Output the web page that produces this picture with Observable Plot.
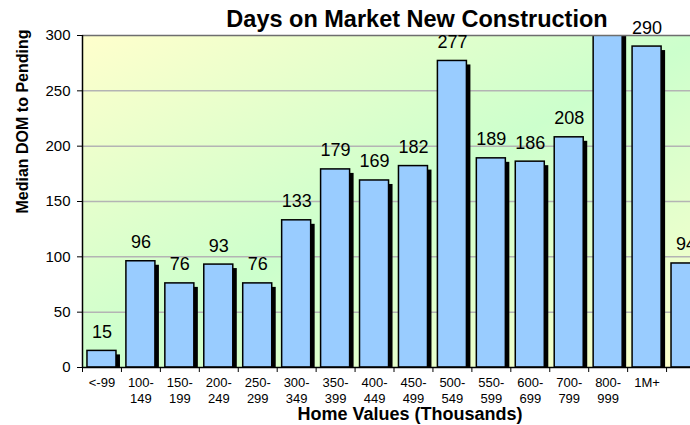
<!DOCTYPE html>
<html><head><meta charset="utf-8">
<script src="https://cdn.jsdelivr.net/npm/d3@7"></script>
<script src="https://cdn.jsdelivr.net/npm/@observablehq/plot@0.6"></script>
<style>
html,body{margin:0;padding:0;background:#fff;overflow:hidden;}
#chart{width:690px;height:425px;overflow:hidden;}
</style></head><body><div id="chart"></div>
<script>
const title = "Days on Market New Construction";
const yTitle = "Median DOM to Pending";
const xTitle = "Home Values (Thousands)";
const categories = ["<-99","100-149","150-199","200-249","250-299","300-349","350-399","400-449","450-499","500-549","550-599","600-699","700-799","800-999","1M+","(cut off)"];
const tickLabels = ["<-99","100-\n149","150-\n199","200-\n249","250-\n299","300-\n349","350-\n399","400-\n449","450-\n499","500-\n549","550-\n599","600-\n699","700-\n799","800-\n999","1M+",""];
const values = [15,96,76,93,76,133,179,169,182,277,189,186,208,320,290,94];
const yTicks = [0,50,100,150,200,250,300];
const gridTicks = [50,100,150,200,250];
const yMax = 300;

const W = 690, H = 425, mL = 82, mR = -15, mT = 35, mB = 58;
const step = (W - mR - mL) / categories.length;
const data = categories.map((c, i) => ({cat: c, value: values[i]}));
const labelOf = new Map(categories.map((c, i) => [c, tickLabels[i]]));

const svg = Plot.plot({
  width: W, height: H,
  marginLeft: mL, marginRight: mR, marginTop: mT, marginBottom: mB,
  style: {fontFamily: "'Liberation Sans', Arial, sans-serif", color: "black", background: "white", overflow: "hidden"},
  x: {domain: categories, paddingInner: 0.255, paddingOuter: 0.1275, align: 0.5, round: false},
  y: {domain: [0, yMax]},
  marks: [
    Plot.frame({fill: "url(#plotBg)", stroke: null}),
    Plot.gridY(gridTicks, {stroke: "#b4b4b4", strokeOpacity: 1, strokeWidth: 1.5}),
    Plot.barY(data, {x: "cat", y: "value", fill: "black", dx: 4, dy: 4, clip: true}),
    Plot.barY(data, {x: "cat", y: "value", fill: "#99ccff", stroke: "black", strokeWidth: 1.5, clip: true}),
    Plot.ruleY([yMax], {stroke: "#6e6e6e", strokeWidth: 1.5}),
    Plot.ruleY([0], {stroke: "black", strokeWidth: 1.5}),
    Plot.ruleX([categories[0]], {dx: -step / 2, stroke: "black", strokeWidth: 1.5}),
    Plot.axisY({ticks: yTicks, tickSize: 5, tickPadding: 7, fontSize: 15, label: null}),
    Plot.axisX({tickSize: 5, tickFormat: () => "", dx: -step / 2, label: null}),
    Plot.axisX({tickSize: 0, tickPadding: 7, fontSize: 13, lineHeight: 1.3, tickFormat: d => labelOf.get(d), label: null}),
    Plot.text(data.filter(d => d.value <= yMax), {x: "cat", y: "value", text: d => String(d.value), lineAnchor: "bottom", dy: -13, fontSize: 18})
  ]
});

const s = d3.select(svg);
s.insert("defs", ":first-child").html(
  '<linearGradient id="plotBg" x1="0" y1="0" x2="1" y2="1">' +
  '<stop offset="0" stop-color="#ffffcc"/><stop offset="0.5" stop-color="#ccffcc"/><stop offset="1" stop-color="#ffffcc"/>' +
  '</linearGradient>');
s.append("text").text(title)
  .attr("x", 417).attr("y", 26.5).attr("text-anchor", "middle")
  .attr("font-size", 23.5).attr("font-weight", "bold").attr("fill", "black");
s.append("text").text(yTitle)
  .attr("transform", "translate(28,121.5) rotate(-90)").attr("text-anchor", "middle")
  .attr("font-size", 16).attr("font-weight", "bold").attr("fill", "black");
s.append("text").text(xTitle)
  .attr("x", 410).attr("y", 420).attr("text-anchor", "middle")
  .attr("font-size", 18).attr("font-weight", "bold").attr("fill", "black");

document.getElementById("chart").appendChild(svg);
</script>
</body></html>
